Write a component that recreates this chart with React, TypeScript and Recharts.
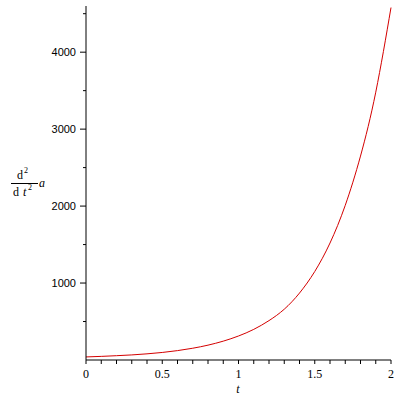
import { LineChart, Line, XAxis, YAxis, Label } from "recharts";

const times = [0, 0.1, 0.2, 0.3, 0.4, 0.5, 0.6, 0.7, 0.8, 0.9, 1, 1.1, 1.2, 1.3, 1.4, 1.5, 1.6, 1.7, 1.8, 1.9, 2];
const accel = [40, 47, 56, 66, 80, 98, 122, 153, 193, 245, 312, 398, 512, 660, 870, 1150, 1520, 2010, 2650, 3480, 4580];
const xTicks = [0, 0.1, 0.2, 0.3, 0.4, 0.5, 0.6, 0.7, 0.8, 0.9, 1, 1.1, 1.2, 1.3, 1.4, 1.5, 1.6, 1.7, 1.8, 1.9, 2];
const xLabels = [0, 0.5, 1, 1.5, 2];
const yTicks = [500, 1000, 1500, 2000, 2500, 3000, 3500, 4000, 4500];
const yLabels = [1000, 2000, 3000, 4000];

const data = times.map((t, i) => ({ t, a: accel[i] }));

const XTick = ({ x, y, payload }: any) => {
  const v = payload.value;
  const show = xLabels.some((l) => Math.abs(l - v) < 1e-6);
  return (
    <g>
      <line x1={x} x2={x} y1={y} y2={y + 4} stroke="#000" />
      {show && (
        <text x={x} y={y + 18} textAnchor="middle" fontSize={12} fontFamily="Liberation Serif" fill="#000">
          {String(Math.round(v * 10) / 10)}
        </text>
      )}
    </g>
  );
};

const YTick = ({ x, y, payload }: any) => {
  const v = payload.value;
  const major = yLabels.includes(v);
  return (
    <g>
      <line x1={x - (major ? 6 : 3)} x2={x} y1={y} y2={y} stroke="#000" />
      {major && (
        <text x={x - 10} y={y + 4} textAnchor="end" fontSize={11} fontFamily="Liberation Sans" fill="#000">
          {v}
        </text>
      )}
    </g>
  );
};

const YTitle = () => (
  <g fontFamily="Liberation Serif" fill="#000">
    <text x={17} y={179} fontSize={12}>d</text>
    <text x={24} y={173} fontSize={8}>2</text>
    <line x1={11} x2={38} y1={183.5} y2={183.5} stroke="#000" />
    <text x={13} y={196} fontSize={12}>d</text>
    <text x={23} y={196} fontSize={12} fontStyle="italic">t</text>
    <text x={28} y={190} fontSize={8}>2</text>
    <text x={39} y={187} fontSize={12} fontStyle="italic">a</text>
  </g>
);

const XTitle = () => (
  <text x={238} y={393} textAnchor="middle" fontSize={12} fontStyle="italic" fontFamily="Liberation Serif" fill="#000">
    t
  </text>
);

export default function App() {
  return (
    <div style={{ position: "absolute", left: 0, top: 0, background: "#fff" }}>
      <LineChart width={400} height={400} data={data} margin={{ top: 6, right: 9, bottom: 10, left: 26 }}>
        <XAxis
          dataKey="t"
          type="number"
          domain={[0, 2]}
          ticks={xTicks}
          interval={0}
          height={30}
          tickSize={0}
          tickMargin={0}
          tickLine={false}
          tick={<XTick />}
          axisLine={{ stroke: "#000" }}
        >
          <Label content={<XTitle />} />
        </XAxis>
        <YAxis
          type="number"
          domain={[0, 4600]}
          ticks={yTicks}
          interval={0}
          width={60}
          tickSize={0}
          tickMargin={0}
          tickLine={false}
          tick={<YTick />}
          axisLine={{ stroke: "#000" }}
        >
          <Label content={<YTitle />} />
        </YAxis>
        <Line dataKey="a" type="natural" stroke="#d40000" strokeWidth={1} dot={false} isAnimationActive={false} />
      </LineChart>
    </div>
  );
}
